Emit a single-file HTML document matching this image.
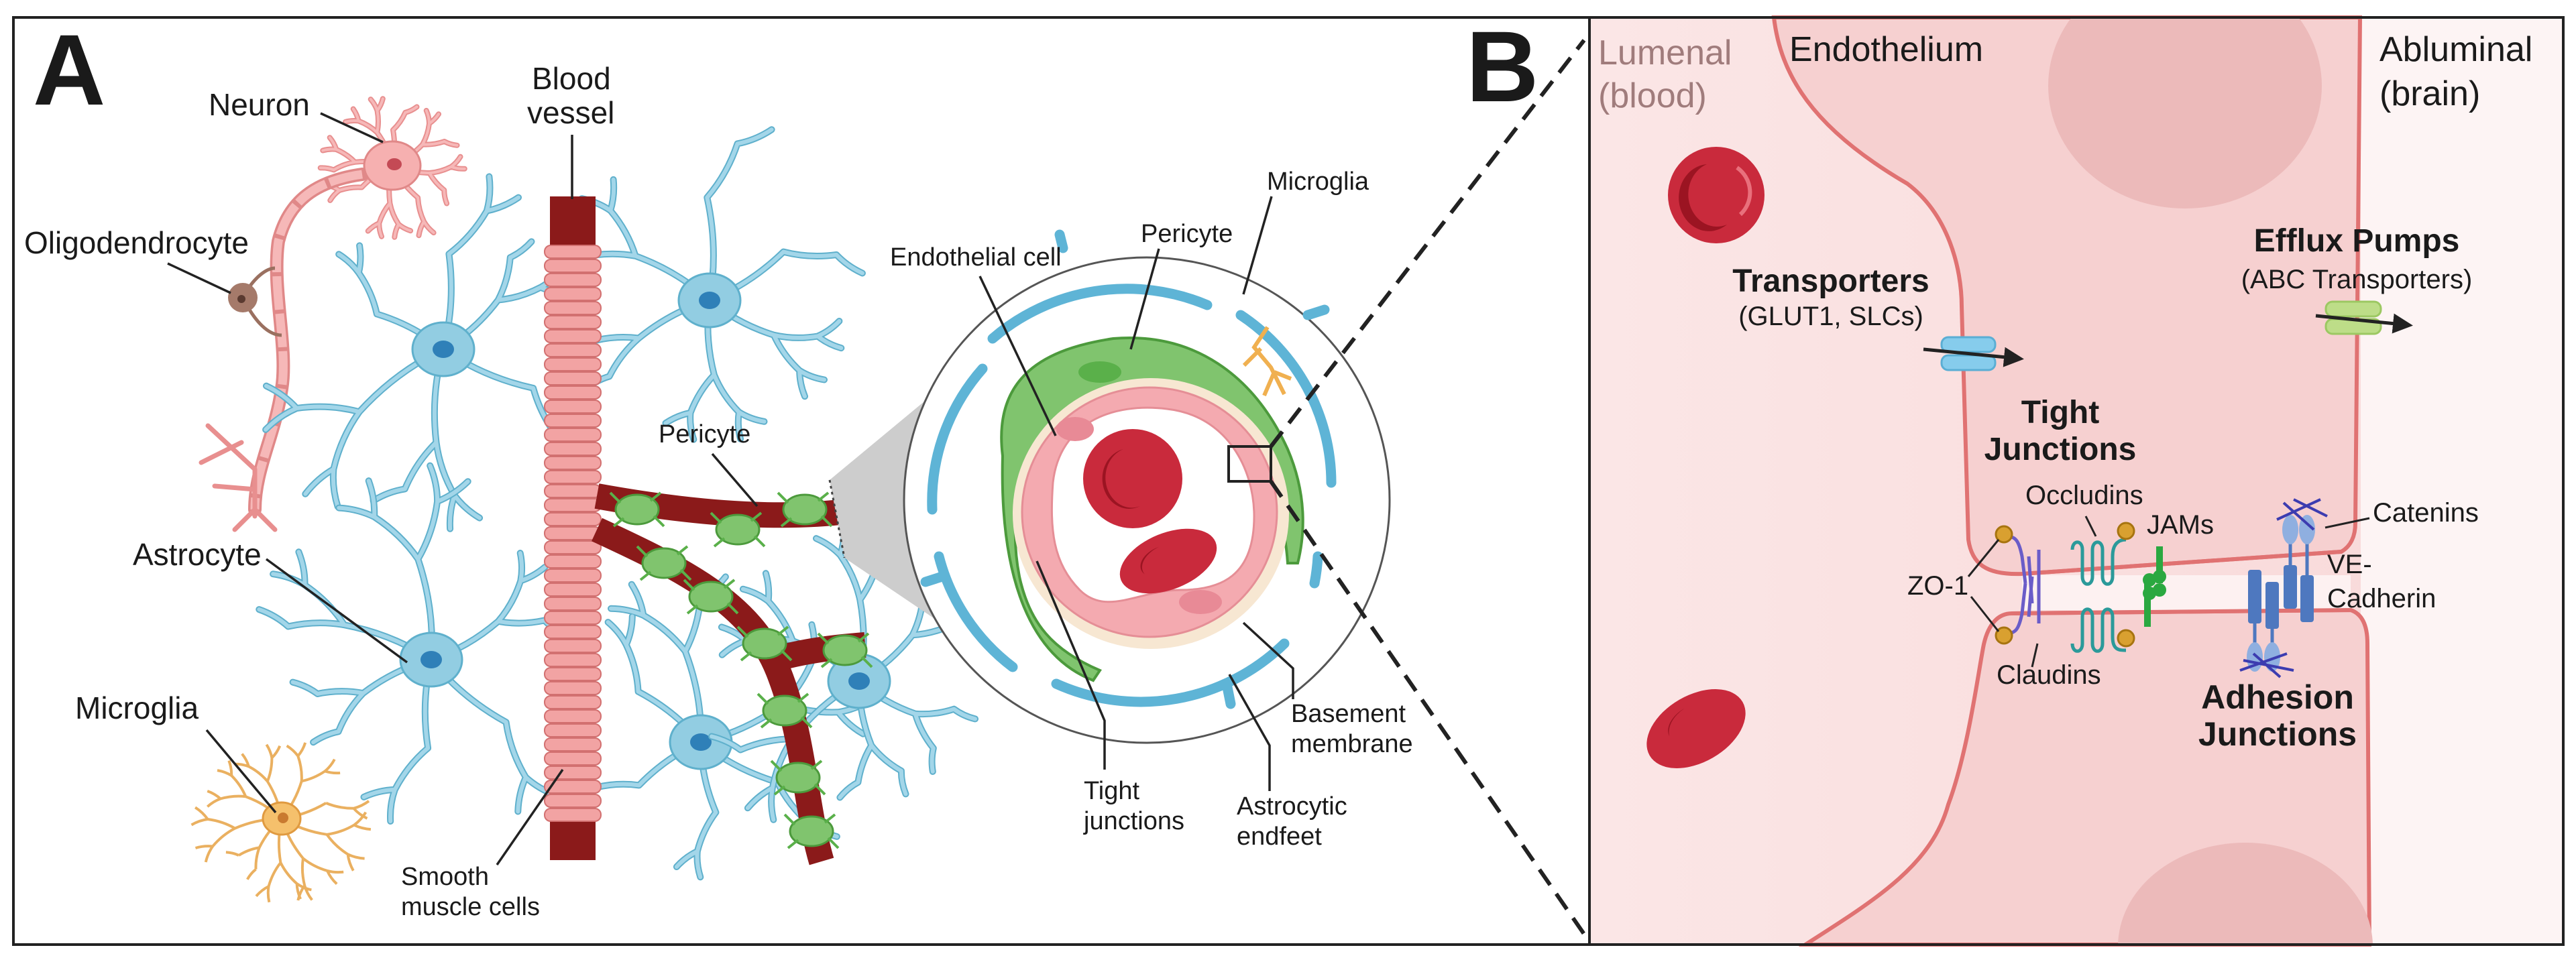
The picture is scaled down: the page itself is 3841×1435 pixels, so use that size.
<!DOCTYPE html>
<html><head><meta charset="utf-8">
<style>
html,body{margin:0;padding:0;background:#fff;width:3841px;height:1435px;overflow:hidden;}
svg{display:block;}
text{font-family:"Liberation Sans",sans-serif;fill:#1a1a1a;}
</style></head>
<body>
<svg id="s" width="3841" height="1435" viewBox="0 0 3841 1435" xmlns="http://www.w3.org/2000/svg">
<defs>
<linearGradient id="lum" x1="0" x2="1"><stop offset="0" stop-color="#fbe6e6"/><stop offset="1" stop-color="#f8d8d8"/></linearGradient>
<marker id="ar" viewBox="0 0 10 10" refX="8" refY="5" markerWidth="6" markerHeight="6" orient="auto"><path d="M0,0 L10,5 L0,10 z" fill="#222"/></marker>
</defs>
<rect x="0" y="0" width="3841" height="1435" fill="#fff"/>

<rect x="2370" y="26" width="1452" height="1383" fill="url(#lum)"/>
<rect x="3520" y="26" width="302" height="1383" fill="#fdf4f4"/>
<path d="M2645,26 C2655,110 2700,190 2844,274 C2905,320 2925,400 2925,457 L2935,805 C2940,840 2960,858 3015,856 L3491,823 C3505,815 3512,800 3512,780 L3519,26 Z" fill="#f6d0d0" stroke="#e07272" stroke-width="6"/>
<path d="M2692,1409 C2800,1340 2880,1290 2905,1200 C2935,1120 2950,1000 2958,961 C2965,930 2980,915 3000,915 L3505,910 C3520,915 3530,930 3530,960 L3533,1409 Z" fill="#f6d0d0" stroke="#e07272" stroke-width="6"/>
<clipPath id="cb"><rect x="2370" y="26" width="1452" height="1383"/></clipPath>
<g clip-path="url(#cb)">
<ellipse cx="3258" cy="128" rx="204" ry="183" fill="#ecbaba"/>
<ellipse cx="3348" cy="1412" rx="190" ry="155" fill="#ecbaba"/>
</g>
<rect x="3015" y="858" width="490" height="52" fill="#fdf1f1"/>
<path d="M3015,856 L3491,823" stroke="#e07272" stroke-width="6" fill="none"/>
<path d="M3000,915 L3505,910" stroke="#e07272" stroke-width="6" fill="none"/>
<circle cx="2559" cy="291" r="72" fill="#c92a3c"/>
<path d="M2545,245 a45,50 0 1,0 30,90 a40,45 0 0,1 -30,-90z" fill="#9b1422"/>
<path d="M2590,250 a45,45 0 0,1 5,70" stroke="#e9707c" stroke-width="6" fill="none"/>
<g transform="translate(2529,1087) rotate(-30)"><ellipse rx="80" ry="50" fill="#c92a3c"/><path d="M-40,-10 a45,30 0 0,1 40,-25 a40,25 0 0,0 -40,25z" fill="#9b1422"/></g>
<rect x="2895" y="503" width="80" height="22" rx="10" fill="#86ccec" stroke="#5aaed4" stroke-width="3"/>
<rect x="2895" y="530" width="80" height="22" rx="10" fill="#86ccec" stroke="#5aaed4" stroke-width="3"/>
<line x1="2868" y1="521" x2="3012" y2="535" stroke="#222" stroke-width="5" marker-end="url(#ar)"/>
<rect x="3468" y="450" width="82" height="22" rx="10" fill="#bddd88" stroke="#9cc862" stroke-width="3"/>
<rect x="3468" y="476" width="82" height="22" rx="10" fill="#bddd88" stroke="#9cc862" stroke-width="3"/>
<line x1="3453" y1="471" x2="3592" y2="485" stroke="#222" stroke-width="5" marker-end="url(#ar)"/>
<g fill="none" stroke-width="5">
<path d="M2990,800 C3005,800 3010,805 3015,830 L3020,870 M3025,830 L3030,900 M3040,820 L3040,890" stroke="#6a5cc8"/>
<path d="M2990,945 C3005,945 3010,940 3015,915 L3020,870 M3025,920 L3030,860 M3040,930 L3040,870" stroke="#6a5cc8"/>
<path d="M3090,820 c0,-15 15,-15 15,0 v40 c0,15 15,15 15,0 v-40 c0,-15 15,-15 15,0 v40 c0,15 15,15 15,0 v-30 c0,-20 10,-25 20,-25" stroke="#2b9a9a"/>
<path d="M3090,960 c0,15 15,15 15,0 v-40 c0,-15 15,-15 15,0 v40 c0,15 15,15 15,0 v-40 c0,-15 15,-15 15,0 v30 c0,20 10,20 20,20" stroke="#2b9a9a"/>
<path d="M3220,815 V870 M3202,935 V870" stroke="#2aa840" stroke-width="10"/>
</g>
<g fill="#2aa840"><circle cx="3205" cy="865" r="10"/><circle cx="3220" cy="860" r="10"/><circle cx="3205" cy="885" r="10"/><circle cx="3220" cy="880" r="10"/></g>
<g fill="#d9a030" stroke="#a77410" stroke-width="3"><circle cx="2988" cy="797" r="12"/><circle cx="2988" cy="948" r="12"/><circle cx="3170" cy="792" r="12"/><circle cx="3170" cy="952" r="12"/></g>
<g fill="#4e78bf">
<rect x="3352" y="850" width="20" height="80" rx="4"/><rect x="3378" y="868" width="20" height="70" rx="4"/>
<rect x="3405" y="843" width="20" height="65" rx="4"/><rect x="3430" y="858" width="20" height="70" rx="4"/>
</g>
<g stroke="#4e78bf" stroke-width="5"><line x1="3362" y1="930" x2="3362" y2="970"/><line x1="3388" y1="935" x2="3388" y2="970"/><line x1="3415" y1="843" x2="3415" y2="800"/><line x1="3440" y1="858" x2="3440" y2="800"/></g>
<g fill="#8fafe0"><ellipse cx="3362" cy="980" rx="12" ry="22"/><ellipse cx="3388" cy="980" rx="12" ry="22"/><ellipse cx="3415" cy="790" rx="12" ry="22"/><ellipse cx="3440" cy="790" rx="12" ry="22"/></g>
<g stroke="#3c3cb0" stroke-width="4"><path d="M3395,775 L3460,745 M3405,750 L3450,790 M3420,745 L3470,770"/><path d="M3340,1000 L3410,975 M3360,975 L3400,1010 M3345,985 L3420,1000"/></g>
<g stroke="#222" stroke-width="3"><line x1="2935" y1="860" x2="2980" y2="805"/><line x1="2939" y1="890" x2="2980" y2="942"/><line x1="3038" y1="960" x2="3030" y2="995"/><line x1="3110" y1="770" x2="3125" y2="800"/><line x1="3467" y1="787" x2="3533" y2="773"/></g>
<text x="2383" y="96" font-size="52" style="fill:#a07c7c">Lumenal</text>
<text x="2383" y="160" font-size="52" style="fill:#a07c7c">(blood)</text>
<text x="2668" y="91" font-size="52">Endothelium</text>
<text x="3548" y="91" font-size="52">Abluminal</text>
<text x="3548" y="157" font-size="52">(brain)</text>
<text x="2730" y="435" font-size="48" font-weight="bold" text-anchor="middle">Transporters</text>
<text x="2730" y="485" font-size="40" text-anchor="middle">(GLUT1, SLCs)</text>
<text x="3514" y="375" font-size="48" font-weight="bold" text-anchor="middle">Efflux Pumps</text>
<text x="3514" y="430" font-size="40" text-anchor="middle">(ABC Transporters)</text>
<text x="3072" y="631" font-size="48" font-weight="bold" text-anchor="middle">Tight</text>
<text x="3072" y="686" font-size="48" font-weight="bold" text-anchor="middle">Junctions</text>
<text x="3020" y="752" font-size="40">Occludins</text>
<text x="3201" y="796" font-size="40">JAMs</text>
<text x="2844" y="887" font-size="40">ZO-1</text>
<text x="2977" y="1020" font-size="40">Claudins</text>
<text x="3538" y="778" font-size="40">Catenins</text>
<text x="3470" y="855" font-size="40">VE-</text>
<text x="3470" y="906" font-size="40">Cadherin</text>
<text x="3396" y="1057" font-size="50" font-weight="bold" text-anchor="middle">Adhesion</text>
<text x="3396" y="1112" font-size="50" font-weight="bold" text-anchor="middle">Junctions</text>

<g id="art"></g>
<polygon points="1237,716 1384,594 1398,926 1259,832" fill="#cdcdcd"/>
<line x1="1237" y1="716" x2="1259" y2="832" stroke="#444" stroke-width="3" stroke-dasharray="4,5"/>
<circle cx="1710" cy="746" r="362" fill="#fff" stroke="#555" stroke-width="3"/>
<g fill="none" stroke="#5eb4d6" stroke-width="15" stroke-linecap="round">
<path d="M1480,505 A305,302 0 0,1 1800,455"/>
<path d="M1850,470 A305,302 0 0,1 1985,720"/>
<path d="M1965,830 A305,302 0 0,1 1960,870"/>
<path d="M1465,550 A305,302 0 0,0 1390,760"/>
<path d="M1400,830 A305,302 0 0,0 1510,995"/>
<path d="M1575,1020 A305,302 0 0,0 1915,960"/>
<path d="M1580,350 L1585,370 M1950,470 l25,-8 M1405,860 l-25,8 M1830,1025 l5,25"/>
</g>
<path d="M1495,680 C1480,560 1560,520 1660,505 C1780,495 1870,560 1920,670 C1950,740 1945,800 1935,840 L1920,840 C1915,760 1880,680 1830,640 C1760,600 1650,600 1590,620 C1530,650 1500,760 1520,860 C1535,930 1570,970 1640,1000 L1630,1015 C1540,980 1490,870 1495,680 Z" fill="#80c46e" stroke="#4c9a3c" stroke-width="4"/>
<ellipse cx="1640" cy="555" rx="32" ry="16" fill="#5ab04a"/>
<ellipse cx="1716" cy="766" rx="206" ry="202" fill="#f7e7d2"/>
<ellipse cx="1714" cy="764" rx="190" ry="186" fill="#f4aab0" stroke="#e58e96" stroke-width="3"/>
<path d="M1570,720 C1580,630 1660,600 1740,610 C1830,620 1870,700 1870,770 C1870,860 1820,880 1760,880 C1700,880 1650,920 1610,880 C1570,840 1565,790 1570,720 Z" fill="#fff" stroke="#e58e96" stroke-width="3"/>
<ellipse cx="1603" cy="640" rx="28" ry="18" fill="#e88a96"/>
<ellipse cx="1790" cy="898" rx="32" ry="18" fill="#e88a96"/>
<ellipse cx="1689" cy="714" rx="74" ry="74" fill="#c92a3c"/>
<path d="M1675,670 a40,45 0 1,0 25,85 a35,40 0 0,1 -25,-85z" fill="#9b1422"/>
<g transform="translate(1742,837) rotate(-22)"><ellipse rx="76" ry="42" fill="#c92a3c"/><path d="M-40,5 a40,25 0 0,1 35,-30 a35,22 0 0,0 -35,30z" fill="#9b1422"/></g>
<path d="M1890,488 l-20,30 l25,30 l20,40 M1880,520 l-25,25 M1900,555 l25,10 M1900,555 l-15,35" stroke="#f0b050" stroke-width="6" fill="none"/>
<rect x="1832" y="666" width="63" height="52" fill="none" stroke="#222" stroke-width="4"/>
<line x1="1895" y1="666" x2="2362" y2="60" stroke="#222" stroke-width="6" stroke-dasharray="28,16"/>
<line x1="1895" y1="718" x2="2368" y2="1402" stroke="#222" stroke-width="6" stroke-dasharray="28,16"/>

<g stroke="#222" stroke-width="3.5" fill="none">
<line x1="478" y1="169" x2="571" y2="212"/>
<line x1="853" y1="201" x2="853" y2="297"/>
<line x1="250" y1="393" x2="344" y2="437"/>
<line x1="397" y1="834" x2="607" y2="988"/>
<line x1="308" y1="1089" x2="411" y2="1212"/>
<line x1="741" y1="1290" x2="839" y2="1148"/>
<line x1="1062" y1="677" x2="1129" y2="755"/>
<line x1="1896" y1="293" x2="1854" y2="439"/>
<line x1="1728" y1="371" x2="1686" y2="521"/>
<line x1="1461" y1="412" x2="1574" y2="650"/>
<polyline points="1546,837 1647,1075 1647,1148"/>
<polyline points="1833,1006 1893,1112 1893,1180"/>
<polyline points="1854,929 1928,997 1928,1043"/>
</g>
<text x="49" y="156" font-size="150" font-weight="bold">A</text>
<text x="2186" y="151" font-size="150" font-weight="bold">B</text>
<text x="311" y="172" font-size="46">Neuron</text>
<text x="793" y="133" font-size="46">Blood</text>
<text x="786" y="184" font-size="46">vessel</text>
<text x="36" y="378" font-size="46">Oligodendrocyte</text>
<text x="198" y="843" font-size="46">Astrocyte</text>
<text x="112" y="1072" font-size="46">Microglia</text>
<text x="598" y="1320" font-size="38">Smooth</text>
<text x="598" y="1365" font-size="38">muscle cells</text>
<text x="982" y="660" font-size="38">Pericyte</text>
<text x="1889" y="283" font-size="38">Microglia</text>
<text x="1701" y="361" font-size="38">Pericyte</text>
<text x="1327" y="396" font-size="38">Endothelial cell</text>
<text x="1616" y="1192" font-size="38">Tight</text>
<text x="1616" y="1237" font-size="38">junctions</text>
<text x="1844" y="1215" font-size="38">Astrocytic</text>
<text x="1844" y="1260" font-size="38">endfeet</text>
<text x="1925" y="1077" font-size="38">Basement</text>
<text x="1925" y="1122" font-size="38">membrane</text>

<rect x="20" y="26" width="2350" height="1383" fill="none" stroke="#222" stroke-width="4"/>
<rect x="2370" y="26" width="1452" height="1383" fill="none" stroke="#222" stroke-width="4"/>
</svg>
<script>
(function(){
var NS="http://www.w3.org/2000/svg",g=document.getElementById("art");
function el(t,a){var e=document.createElementNS(NS,t);for(var k in a)e.setAttribute(k,a[k]);g.appendChild(e);return e;}
var seed=7;function r(){seed=(seed*9301+49297)%233280;return seed/233280;}
function tree(cx,cy,n,len,depth,a0,f){
 var d="";
 function br(x,y,ang,l,dp){var x2=x+Math.cos(ang)*l,y2=y+Math.sin(ang)*l;
  var mx=x+Math.cos(ang+0.2)*l*0.5,my=y+Math.sin(ang+0.2)*l*0.5;
  d+="M"+x.toFixed(1)+","+y.toFixed(1)+" Q"+mx.toFixed(1)+","+my.toFixed(1)+" "+x2.toFixed(1)+","+y2.toFixed(1);
  if(dp>0){if(r()<f)br(x2,y2,ang-0.4-r()*0.3,l*0.6,dp-1);br(x2,y2,ang+0.4+r()*0.3,l*0.6,dp-1);}}
 for(var i=0;i<n;i++){br(cx,cy,(a0||0)+i*2*Math.PI/n+r()*0.4,len*(0.8+r()*0.4),depth);}
 return d;}
function astro(cx,cy,s){var d=tree(cx,cy,6,120*s,2,0.3,0.6);
 el("path",{d:d,stroke:"#5fb0cc","stroke-width":10,fill:"none","stroke-linecap":"round"});
 el("path",{d:d,stroke:"#a3d6e9","stroke-width":6,fill:"none","stroke-linecap":"round"});
 el("ellipse",{cx:cx,cy:cy,rx:46,ry:40,fill:"#92cde2",stroke:"#5fb0cc","stroke-width":3});
 el("ellipse",{cx:cx,cy:cy,rx:16,ry:13,fill:"#2f80b8"});}
var nd=tree(585,247,8,55,2,0,0.5);
el("path",{d:nd,stroke:"#e88f8f","stroke-width":8,fill:"none","stroke-linecap":"round"});
el("path",{d:nd,stroke:"#f6b8b8","stroke-width":4,fill:"none","stroke-linecap":"round"});
var ax="M540,260 C470,270 430,300 415,360 C405,430 430,520 420,580 C410,650 380,700 380,760";
el("path",{d:ax,stroke:"#e08888","stroke-width":20,fill:"none","stroke-linecap":"round"});
el("path",{d:ax,stroke:"#f6b8b8","stroke-width":13,fill:"none","stroke-dasharray":"50,6"});
el("path",{d:"M380,700 L310,635 M380,700 L380,770 M380,730 L320,725 M360,660 L300,690 M380,760 L350,790 M380,760 L410,790",stroke:"#e88f8f","stroke-width":7,fill:"none","stroke-linecap":"round"});
el("ellipse",{cx:585,cy:247,rx:42,ry:36,fill:"#f6b0b0",stroke:"#e08888","stroke-width":3});
el("ellipse",{cx:588,cy:245,rx:11,ry:9,fill:"#c44a55"});
el("path",{d:"M362,444 C380,410 400,400 410,400 M362,444 C380,480 400,500 420,500",stroke:"#9a7060","stroke-width":5,fill:"none"});
el("ellipse",{cx:362,cy:444,rx:22,ry:22,fill:"#a57a6a"});
el("circle",{cx:360,cy:446,r:6,fill:"#5a3a30"});
astro(661,521,1.1);astro(1058,448,1.1);astro(643,984,1.15);astro(1045,1107,1.05);astro(1281,1016,0.95);
var md=tree(420,1221,9,65,2,0,0.8);
el("path",{d:md,stroke:"#eab060","stroke-width":4,fill:"none"});
el("ellipse",{cx:420,cy:1221,rx:28,ry:24,fill:"#f5c06c",stroke:"#e09a40","stroke-width":3});
el("circle",{cx:422,cy:1220,r:8,fill:"#c97a30"});
el("rect",{x:820,y:293,width:68,height:990,fill:"#8b1a1a"});
for(var y=366;y<1217;y+=21){el("rect",{x:812,y:y,width:84,height:19,rx:9,fill:"#f2a3a3",stroke:"#d27070","stroke-width":2});}
var bp="M890,740 C1000,760 1150,780 1286,760 M890,790 C1020,850 1120,900 1160,1000 S1200,1200 1225,1285 M1150,985 C1200,970 1250,965 1290,962";
el("path",{d:bp,stroke:"#8b1a1a","stroke-width":38,fill:"none"});
[[950,760],[1100,790],[1200,760],[990,840],[1060,890],[1140,960],[1170,1060],[1190,1160],[1210,1240],[1260,970]].forEach(function(p){
 el("ellipse",{cx:p[0],cy:p[1],rx:32,ry:22,fill:"#80c46e",stroke:"#4c9a3c","stroke-width":3});
 el("path",{d:"M"+(p[0]-40)+","+(p[1]-25)+" l15,15 M"+(p[0]+40)+","+(p[1]+25)+" l-15,-15 M"+(p[0]-35)+","+(p[1]+25)+" l15,-12 M"+(p[0]+35)+","+(p[1]-25)+" l-15,12",stroke:"#5ab04a","stroke-width":4,fill:"none"});});
})();
</script>
</body></html>
